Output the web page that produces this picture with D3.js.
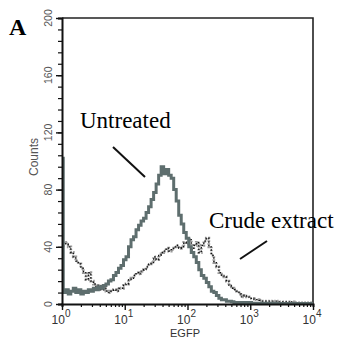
<!DOCTYPE html>
<html><head><meta charset="utf-8">
<script src="https://cdn.jsdelivr.net/npm/d3@7"></script>
<style>body{margin:0;background:#fff}svg{display:block}</style>
</head><body>
<svg id="c" width="344" height="349"></svg>
<script>
// channel step in decades (256-like log channels resampled)
const channelStep = 0.04;
const untreated = [102,8,10,7,9,11,8,10,7,9, 8,10,9,11,10,12,11,13,14,16, 17,20,22,25,27,31,33,40,45,47, 52,55,58,60,64,68,73,78,84,90, 96,91,94,90,88,80,72,62,56,50, 46,40,36,33,29,24,20,18,15,12, 9,8,6,4,3,3,2,2,1.5,1, 1,1,1,1,1,1,0.5,0.5,0.5,0.5, 0.5,0.5,0.5,0.5,0.5,0.5,0.3,0.3,0.3,0.3, 0.3,0.3,0.3,0.3,0.3,0.3,0.3,0.3,0.3,0.3, 0.3];
const crude = [41,43,42,40,36,33,30,28,25,22, 17,22,16,14,12,13,10,11,9,8, 9,10,9,11,11,13,14,17,18,20, 22,21,23,24,26,28,29,33,31,34, 36,37,39,37,38,40,41,39,40,43, 42,45,38,41,43,36,41,44,46,40, 34,29,26,22,20,19,16,13,11,10, 9,7,5,6,5,4,4,3,3,2.5, 2,2,2,2,2,2,2,1.5,1.5,1.5, 1.5,1,1.5,1,1,1,1,1,1,1, 1];
const xTicks = [1,10,100,1000,10000];
const xExp = ["0","1","2","3","4"];
const yTicks = [0,40,80,120,160,200];
const seriesLabels = ["Untreated","Crude extract"];
const panelLabel = "A";
const xTitle = "EGFP", yTitle = "Counts";

const svg = d3.select("#c");
const L=62, R=313, T=18, B=304;
const x = d3.scaleLog().domain([1,10000]).range([L,R]);
const y = d3.scaleLinear().domain([0,200]).range([B,T]);

svg.append("clipPath").attr("id","clip").append("rect")
  .attr("x",L).attr("y",T).attr("width",R-L).attr("height",B-T);

// frame top/right
svg.append("path").attr("d",`M${L},${T}H${R}V${B}`).attr("fill","none")
  .attr("stroke","#222").attr("stroke-width",1.6);

const line = d3.line().curve(d3.curveStep)
  .x((d,i)=>x(Math.pow(10,i*channelStep))).y(d=>y(d));

const g = svg.append("g").attr("clip-path","url(#clip)");
g.append("path").datum(crude).attr("d",line).attr("fill","none")
  .attr("stroke","#9a9a9a").attr("stroke-width",2.8).attr("stroke-dasharray","1.5,1.5");
g.append("path").datum(crude).attr("d",line).attr("fill","none")
  .attr("stroke","#111").attr("stroke-width",1.3).attr("stroke-dasharray","1.5,2");
g.append("path").datum(untreated).attr("d",line).attr("fill","none")
  .attr("stroke","#5e6e6e").attr("stroke-width",3);

// y axis
const yMinor = d3.range(0,201,8);
const ya = svg.append("g").attr("transform",`translate(${L},0)`)
  .call(d3.axisLeft(y).tickValues(yMinor).tickSize(4).tickFormat(""));
ya.select(".domain").attr("stroke","#111").attr("stroke-width",2);
ya.selectAll(".tick line").attr("stroke","#111").attr("stroke-width",1.2);
svg.append("g").attr("transform",`translate(${L},0)`)
  .call(d3.axisLeft(y).tickValues(yTicks).tickSize(6).tickFormat(""))
  .call(s=>{s.select(".domain").remove();s.selectAll("line").attr("stroke","#111").attr("stroke-width",1.4);});
svg.selectAll(".ylab").data(yTicks).join("text")
  .attr("transform",d=>`translate(52,${y(d)}) rotate(-90)`)
  .attr("text-anchor","middle").attr("font-family","Liberation Sans, Arial, sans-serif")
  .attr("font-size",10.5).attr("fill","#555").text(d=>d);
svg.append("text").attr("transform","translate(38,157) rotate(-90)")
  .attr("text-anchor","middle").attr("font-family","Liberation Sans, Arial, sans-serif")
  .attr("font-size",12).attr("fill","#555").text(yTitle);

// x axis
const xMinor = [];
for (const d of [1,10,100,1000]) for (const m of [2,3,4,5,6,7,8,9]) xMinor.push(d*m);
const xa = svg.append("g").attr("transform",`translate(0,${B})`)
  .call(d3.axisBottom(x).tickValues(xMinor).tickSize(3).tickFormat(""));
xa.select(".domain").attr("stroke","#111").attr("stroke-width",2);
xa.selectAll(".tick line").attr("stroke","#111").attr("stroke-width",1.2);
svg.append("g").attr("transform",`translate(0,${B})`)
  .call(d3.axisBottom(x).tickValues(xTicks).tickSize(6).tickFormat(""))
  .call(s=>{s.select(".domain").remove();s.selectAll("line").attr("stroke","#111").attr("stroke-width",1.4);});
const xl = svg.selectAll(".xlab").data(xTicks).join("text")
  .attr("x",d=>x(d)-1).attr("y",324).attr("text-anchor","middle")
  .attr("font-family","Liberation Sans, Arial, sans-serif").attr("font-size",12).attr("fill","#333");
xl.append("tspan").text("10");
xl.append("tspan").attr("dy",-7).attr("font-size",10).text((d,i)=>xExp[i]);
svg.append("text").attr("x",185).attr("y",337).attr("text-anchor","middle")
  .attr("font-family","Liberation Sans, Arial, sans-serif").attr("font-size",11).attr("fill","#333").text(xTitle);

// annotations
svg.append("text").attr("x",9).attr("y",35).attr("font-family","Liberation Serif, Times New Roman, serif")
  .attr("font-weight","bold").attr("font-size",24).text(panelLabel);
svg.append("text").attr("x",80).attr("y",128).attr("font-family","Liberation Serif, Times New Roman, serif")
  .attr("font-size",23).text(seriesLabels[0]);
svg.append("text").attr("x",209).attr("y",228).attr("font-family","Liberation Serif, Times New Roman, serif")
  .attr("font-size",23).text(seriesLabels[1]);
svg.append("line").attr("x1",113).attr("y1",147).attr("x2",145).attr("y2",177)
  .attr("stroke","#111").attr("stroke-width",2);
svg.append("line").attr("x1",240).attr("y1",259).attr("x2",267).attr("y2",241)
  .attr("stroke","#111").attr("stroke-width",2);
</script>
</body></html>
